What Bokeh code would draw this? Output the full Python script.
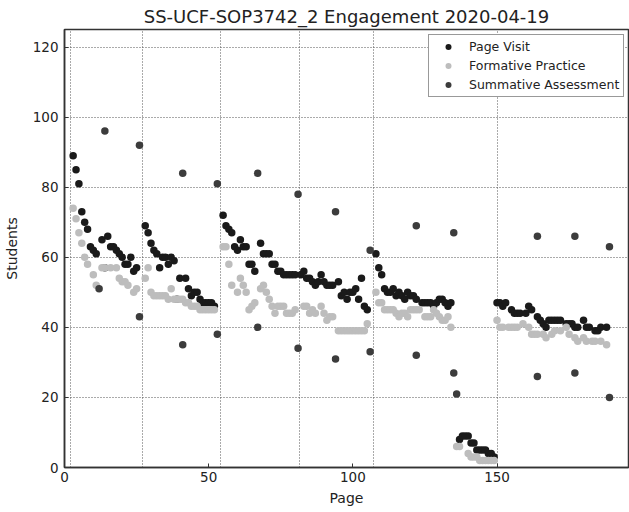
from bokeh.plotting import figure
from bokeh.models import (FixedTicker, Legend, LegendItem, Range1d)
from bokeh.embed import file_html
from bokeh.resources import INLINE

title_text = "SS-UCF-SOP3742_2 Engagement 2020-04-19"

# chapter boundaries (dotted vertical lines)
section_starts = [2, 27, 54, 81.5, 107, 150]

# Page Visit
pv_pages = [3, 4, 5, 6, 7, 8, 9, 10, 11, 13, 14, 15, 16, 17, 18, 19, 20, 21, 22, 23, 24, 25,
            28, 29, 30, 31, 32, 33, 34, 35, 36, 37, 38, 39, 40, 42, 43, 44, 45, 46, 47, 48, 49, 50, 51, 52,
            55, 56, 57, 58, 59, 60, 61, 62, 63, 64, 65, 66, 68, 69, 70, 71, 72, 73, 74, 75, 76, 77, 78, 79, 80,
            82, 83, 84, 85, 86, 87, 88, 89, 90, 91, 92, 93, 95, 96, 97, 98, 99, 100, 101, 102, 103, 104, 105,
            108, 109, 110, 111, 112, 113, 114, 115, 116, 117, 118, 119, 120, 121, 122, 124, 125, 126, 127, 128,
            129, 130, 131, 132, 133, 134,
            137, 138, 139, 140, 141, 142, 143, 144, 145, 146, 147, 148, 149,
            150, 151, 152, 153, 155, 156, 157, 158, 160, 161, 162, 164, 165, 166, 167, 168, 169, 170, 171, 172,
            174, 175, 176, 177, 178, 180, 181, 182, 184, 185, 186, 188]
pv_students = [89, 85, 81, 73, 70, 68, 63, 62, 61, 65, 57, 66, 63, 63, 62, 61, 60, 58, 58, 60, 56, 57,
               69, 67, 64, 62, 61, 57, 60, 60, 58, 60, 59, 48, 54, 54, 51, 49, 50, 50, 48, 47, 47, 47, 47, 46,
               72, 69, 68, 67, 63, 62, 65, 63, 63, 58, 58, 56, 64, 61, 61, 61, 58, 58, 56, 56, 55, 55, 55, 55, 55,
               55, 56, 54, 54, 53, 52, 53, 55, 53, 52, 52, 52, 53, 49, 50, 48, 50, 50, 51, 48, 54, 46, 45,
               61, 57, 55, 51, 50, 50, 51, 49, 50, 49, 48, 50, 49, 49, 48, 47, 47, 47, 47, 46,
               47, 48, 48, 47, 46, 47,
               8, 9, 9, 9, 7, 7, 5, 5, 5, 5, 4, 4, 3,
               47, 47, 46, 47, 45, 44, 44, 44, 44, 46, 45, 43, 42, 41, 40, 42, 42, 42, 42, 42,
               41, 41, 41, 40, 40, 42, 40, 40, 39, 39, 40, 40]

# Formative Practice
fp_pages = [3, 4, 5, 6, 7, 8, 10, 11, 13, 14, 16, 18, 19, 20, 21, 22, 24, 25,
            28, 29, 30, 31, 32, 33, 34, 35, 36, 37, 38, 39, 40, 41, 42, 43, 44, 45, 46, 47, 48, 49, 50, 51, 52,
            55, 56, 57, 58, 60, 61, 62, 63, 64, 65, 66, 68, 69, 70, 71, 72, 73, 74, 75, 76, 77, 78, 79, 80,
            83, 84, 85, 86, 87, 89, 90, 91, 92, 93, 95, 96, 97, 98, 99, 100, 101, 102, 103, 104, 105,
            108, 109, 110, 111, 112, 113, 114, 115, 116, 117, 118, 119, 120, 121, 122, 123, 125, 126, 127, 128,
            129, 130, 131, 132, 133, 134,
            136, 137, 140, 141, 142, 143, 144, 145, 146, 147, 148, 149,
            150, 151, 152, 154, 155, 156, 157, 159, 161, 162, 163, 164, 166, 167, 169, 170, 172, 174, 175, 177,
            178, 180, 181, 183, 184, 186, 188]
fp_students = [74, 71, 67, 64, 60, 58, 55, 52, 57, 57, 57, 57, 54, 53, 53, 52, 50, 51,
               54, 57, 50, 49, 49, 49, 49, 49, 48, 51, 48, 48, 48, 48, 47, 47, 46, 46, 46, 45, 45, 45, 45, 45, 45,
               63, 63, 58, 52, 50, 54, 52, 50, 45, 46, 47, 51, 52, 50, 48, 46, 44, 46, 46, 46, 44, 44, 44, 45,
               46, 46, 44, 45, 44, 46, 44, 42, 43, 43, 39, 39, 39, 39, 39, 39, 39, 39, 39, 39, 41,
               50, 47, 47, 45, 45, 45, 45, 44, 43, 44, 44, 43, 45, 45, 45, 45, 43, 43, 43, 45,
               44, 43, 42, 42, 43, 40,
               6, 6, 4, 3, 3, 3, 2, 2, 2, 2, 2, 2,
               42, 40, 40, 40, 40, 40, 40, 41, 40, 38, 38, 38, 38, 37, 38, 39, 39, 40, 38, 37,
               36, 37, 36, 36, 36, 36, 35]

# Summative Assessment
sa_pages = [12, 14, 26, 26, 41, 41, 53, 53, 67, 67, 81, 81, 94, 94, 106, 106, 122, 122,
            135, 135, 136, 164, 164, 177, 177, 189, 189]
sa_students = [51, 96, 92, 43, 84, 35, 81, 38, 84, 40, 78, 34, 73, 31, 62, 33, 69, 32,
               67, 27, 21, 66, 26, 66, 27, 63, 20]

x_ticks = [0, 50, 100, 150]
y_ticks = [0, 20, 40, 60, 80, 100, 120]

FONT = "DejaVu Sans"

p = figure(width=629, height=512, output_backend="svg", toolbar_location=None,
           x_range=Range1d(0, 195.6), y_range=Range1d(0, 125),
           min_border_left=64, min_border_right=1, min_border_top=29, min_border_bottom=45,
           title=title_text)
p.background_fill_color = "white"
p.border_fill_color = "white"
p.outline_line_color = "#333333"
p.outline_line_width = 1.5

p.title.align = "center"
p.title.text_font = FONT
p.title.text_font_size = "18px"
p.title.text_font_style = "normal"
p.title.text_color = "#222222"
p.title.standoff = 6

for ax in (p.xaxis[0], p.yaxis[0]):
    ax.axis_line_color = "#333333"
    ax.axis_line_width = 1.5
    ax.major_tick_in = 4
    ax.major_tick_out = 0
    ax.major_tick_line_color = "#333333"
    ax.minor_tick_line_color = None
    ax.major_label_text_font = FONT
    ax.major_label_text_font_size = "13.5px"
    ax.major_label_text_color = "#222222"
    ax.axis_label_text_font = FONT
    ax.axis_label_text_font_size = "14px"
    ax.axis_label_text_font_style = "normal"
    ax.axis_label_text_color = "#222222"

p.xaxis.ticker = FixedTicker(ticks=x_ticks)
p.yaxis.ticker = FixedTicker(ticks=y_ticks)
p.xaxis.axis_label = "Page"
p.yaxis.axis_label = "Students"
p.yaxis.major_label_standoff = 6
p.yaxis.axis_label_standoff = 10
p.xaxis.major_label_standoff = 4
p.xaxis.axis_label_standoff = 5

p.xgrid.ticker = FixedTicker(ticks=section_starts)
p.xgrid.grid_line_color = "#555555"
p.xgrid.grid_line_dash = "1 2"
p.xgrid.grid_line_width = 1
p.ygrid.grid_line_color = "#555555"
p.ygrid.grid_line_dash = "1 2"
p.ygrid.grid_line_width = 1

r_pv = p.scatter(pv_pages, pv_students, size=7.5, color="#1a1a1a", line_color=None)
r_fp = p.scatter(fp_pages, fp_students, size=7.5, color="#bdbdbd", line_color=None)
r_sa = p.scatter(sa_pages, sa_students, size=7.5, color="#3c3c3c", line_color=None)

legend = Legend(items=[LegendItem(label="Page Visit", renderers=[r_pv]),
                       LegendItem(label="Formative Practice", renderers=[r_fp]),
                       LegendItem(label="Summative Assessment", renderers=[r_sa])],
                location=(364, 370))
legend.label_text_font = FONT
legend.label_text_font_size = "12.5px"
legend.label_text_color = "#222222"
legend.border_line_color = "#333333"
legend.border_line_width = 1
legend.background_fill_color = "white"
legend.background_fill_alpha = 1
legend.padding = 4
legend.spacing = 4
legend.glyph_height = 15
legend.label_height = 15
legend.glyph_width = 30
legend.label_standoff = 6
legend.margin = 0
p.add_layout(legend, "center")

open("out.html", "w").write(file_html(p, INLINE))
